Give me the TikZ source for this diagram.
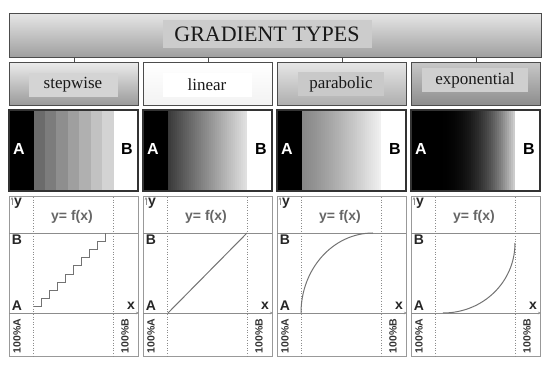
\documentclass[tikz,border=0pt]{standalone}
\usepackage{fontspec}
\setmainfont{Liberation Serif}
\setsansfont{Liberation Sans}
\usetikzlibrary{arrows.meta}

\tikzset{
  box/.style={draw=black!70, line width=1.4pt},
  typetxt/.style={inner sep=0pt, font=\fontsize{17}{20}\selectfont, text=black!90},
  strip/.style={draw=black!80, line width=1.2pt},
  panel/.style={draw=black!40, line width=1pt},
  guide/.style={black!45, dotted, line width=0.6pt},
  level/.style={black!45, line width=0.9pt},
  curve/.style={black!55, line width=1pt},
  lbl/.style={font=\sffamily\bfseries\fontsize{14}{16}\selectfont, text=black!85, inner sep=0pt},
  pct/.style={font=\sffamily\bfseries\fontsize{10.5}{12}\selectfont, text=black!80, inner sep=0pt, rotate=90},
  ends/.style={font=\sffamily\bfseries\fontsize{16}{18}\selectfont, inner sep=0pt},
}

\begin{document}
\begin{tikzpicture}[x=1pt, y=-1pt]
\useasboundingbox (0,0) rectangle (550,366);

\def\w{129}

% title
\node[box, top color=black!10, bottom color=black!38, minimum width=532, minimum height=44, anchor=north west] (ttl) at (9,13) {};
\node[fill=black!20, minimum width=209, minimum height=28, inner sep=0pt, text=black!90, font=\fontsize{22}{26}\selectfont] (ttltxt) at (267,34) {GRADIENT TYPES};

% type boxes
\foreach \i/\L/\lbl/\tc/\bc/\ic/\iw/\iy in {
  1/9/stepwise/black!8/black!40/black!17/89/85,
  2/143/linear/white/black!5/white/89/85,
  3/277/parabolic/black!10/black!32/black!21/86/84,
  4/411/exponential/black!22/black!45/black!19/106/80}{
  \node[box, top color=\tc, bottom color=\bc, minimum width=\w, minimum height=43, anchor=north west] (sub\i) at (\L,62) {};
  \node[typetxt, fill=\ic, minimum width=\iw, minimum height=24] (subtxt\i) at (\L+64,\iy) {\lbl};
  \draw[black!70, line width=1.4pt] (sub\i.north |- ttl.south) -- (sub\i.north);
}

% stepwise strip
\foreach \k in {0,...,6}{
  \pgfmathsetmacro\g{58-6.8*\k}
  \fill[black!\g] (33+\k*11.5,110) rectangle (33+\k*11.5+11.7,191);
}
% linear strip
\foreach \k in {0,...,39}{
  \pgfmathsetmacro\g{78-66*\k/39}
  \fill[black!\g] (167+\k*2,110) rectangle (167+\k*2+2.3,191);
}
% parabolic strip
\foreach \k in {0,...,39}{
  \pgfmathsetmacro\g{47-41*(\k/39)^1.2}
  \fill[black!\g] (301+\k*2,110) rectangle (301+\k*2+2.3,191);
}
% exponential strip
\foreach \k in {0,...,39}{
  \pgfmathsetmacro\g{100-80*(\k/39)^2.5}
  \fill[black!\g] (435+\k*2,110) rectangle (435+\k*2+2.3,191);
}

% strip ends, panels and labels
\foreach \i/\L in {1/9, 2/143, 3/277, 4/411}{
  \fill[black] (\L,110) rectangle (\L+24.5,191);
  \fill[white] (\L+104.5,110) rectangle (\L+\w,191);
  \draw[strip] (\L,110) rectangle (\L+\w,191);
  \node[ends, text=white] (sa\i) at (\L+10,149) {A};
  \node[ends, text=black] (sb\i) at (\L+\w-11,149) {B};

  \draw[panel] (\L,197) rectangle (\L+\w,357);
  \draw[guide] (\L+24.5,197) -- (\L+24.5,357);
  \draw[guide] (\L+104.5,197) -- (\L+104.5,357);
  \draw[level] (\L,233) -- (\L+\w,233);
  \draw[level, -{Stealth[length=3pt,width=2.5pt]}] (\L,313) -- (\L+\w+1,313);
  \draw[level, -{Stealth[length=3pt,width=2.5pt]}] (\L+3,205) -- (\L+3,197);
  \node[lbl] (gy\i) at (\L+9,203) {y};
  \node[lbl, text=black!60] (gf\i) at (\L+63,217) {y= f(x)};
  \node[lbl] (gb\i) at (\L+8,240) {B};
  \node[lbl] (ga\i) at (\L+8,306) {A};
  \node[lbl] (gx\i) at (\L+\w-7,306) {x};
  \node[pct] (pa\i) at (\L+8,336) {100\%A};
  \node[pct] (pb\i) at (\L+116,336) {100\%B};
}

% curves
\draw[curve] (34,307) \foreach \k in {1,...,9}{ -| (34+7.9*\k, 307-8.2*\k) };
\draw[curve] (168,313) -- (247,233);
\draw[curve] (301,313) .. controls (301,269) and (333,233) .. (373,233);
\draw[curve] (443,313) .. controls (483,313) and (515,282) .. (515,243);

\end{tikzpicture}
\end{document}
